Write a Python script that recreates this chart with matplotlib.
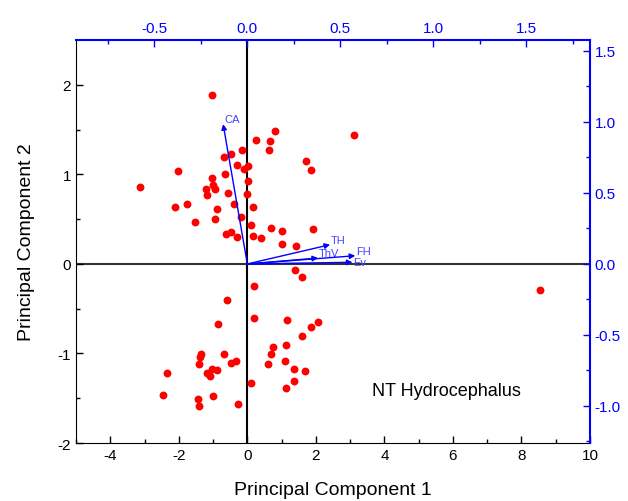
"""PCA biplot - NT Hydrocephalus"""

import numpy as np
from matplotlib import pyplot as plt

plt.rcParams["font.family"] = ["Liberation Sans", "DejaVu Sans"]
plt.rcParams["axes.unicode_minus"] = False

# scores (bottom / left axes)
pc1 = [-1.02, 0.81, 0.26, 0.66, 0.64, -0.17, -0.49, -0.68, -0.30, 0.03,
       -0.09, -2.01, -0.64, 1.70, 1.87, -3.14, -1.03, 0.03, -1.01, -1.20,
       -0.95, -0.56, 0.00, -1.17, -1.75, -0.40, -2.11, 0.17, -0.89, -0.18,
       -1.53, -0.94, 0.10, 0.69, 1.02, 1.92, -0.63, -0.49, -0.29, 0.18,
       0.40, 1.00, 1.41, 3.10, 8.55, 1.40, 1.61, 0.20, -0.60, -0.86,
       0.20, 1.17, 2.06, 1.86, 1.59, 1.13, 0.74, 0.69, 0.60, 1.11,
       1.35, 1.69, 1.37, 1.12, 0.10, -0.69, -1.35, -1.37, -1.41, -0.49,
       -0.32, -1.03, -0.89, -1.19, -1.08, -2.34, -2.46, -1.44, -1.42, -1.01,
       -0.26]
pc2 = [1.89, 1.48, 1.39, 1.37, 1.27, 1.27, 1.23, 1.19, 1.10, 1.09,
       1.06, 1.04, 1.01, 1.15, 1.05, 0.86, 0.96, 0.93, 0.88, 0.84,
       0.84, 0.79, 0.78, 0.77, 0.67, 0.67, 0.64, 0.64, 0.61, 0.53,
       0.47, 0.50, 0.44, 0.40, 0.37, 0.39, 0.33, 0.36, 0.30, 0.31,
       0.29, 0.22, 0.20, 1.445, -0.29, -0.07, -0.14, -0.25, -0.40, -0.67,
       -0.60, -0.63, -0.65, -0.70, -0.80, -0.91, -0.93, -1.01, -1.12, -1.08,
       -1.17, -1.20, -1.31, -1.39, -1.33, -1.01, -1.01, -1.04, -1.12, -1.11,
       -1.08, -1.17, -1.18, -1.22, -1.25, -1.22, -1.46, -1.51, -1.59, -1.47,
       -1.56]

# loadings (top / right axes)
var_names = ["CA", "TH", "ThV", "FH", "Ev"]
load1 = [-0.13, 0.445, 0.38, 0.58, 0.565]
load2 = [0.985, 0.136, 0.042, 0.058, 0.012]

blue = "#0000ff"

fig = plt.figure(figsize=(6.28, 5.02), dpi=100)
pos = [0.121, 0.1155, 0.8185, 0.8025]
ax = fig.add_axes(pos)
ax.set_xlim(-5, 10)
ax.set_ylim(-2, 2.5)
ax.axhline(0, color="#333333", lw=1.5, zorder=1)
ax.axvline(0, color="black", lw=1.5, zorder=1)
ax.scatter(pc1, pc2, s=32, color="red", zorder=3, linewidths=0)
ax.set_xticks([-4, -2, 0, 2, 4, 6, 8, 10])
ax.set_xticks(np.arange(-5, 10, 1), minor=True)
ax.set_yticks([-2, -1, 0, 1, 2])
ax.set_yticks([-1.5, -0.5, 0.5, 1.5], minor=True)
ax.tick_params(direction="in", length=5, width=1, labelsize=11, which="major")
ax.tick_params(direction="in", length=3, width=1, which="minor")
ax.set_xlabel("Principal Component 1", fontsize=14, labelpad=14)
ax.set_ylabel("Principal Component 2", fontsize=14, labelpad=16)
ax.spines["top"].set_visible(False)
ax.spines["right"].set_visible(False)
ax.text(0.72, 0.13, "NT Hydrocephalus", transform=ax.transAxes,
        fontsize=13, ha="center", va="center")

ax2 = fig.add_axes(pos, facecolor="none")
ax2.set_xlim(-5 / 5.43, 10 / 5.43)
ax2.set_ylim(-2 / 1.586, 2.5 / 1.586)
ax2.xaxis.tick_top()
ax2.yaxis.tick_right()
ax2.set_xticks([-0.5, 0.0, 0.5, 1.0, 1.5])
ax2.set_xticks(np.arange(-0.75, 1.8, 0.25), minor=True)
ax2.set_yticks([-1.0, -0.5, 0.0, 0.5, 1.0, 1.5])
ax2.set_yticks(np.arange(-1.25, 1.6, 0.25), minor=True)
ax2.xaxis.set_major_formatter(plt.FormatStrFormatter("%.1f"))
ax2.yaxis.set_major_formatter(plt.FormatStrFormatter("%.1f"))
ax2.tick_params(direction="in", length=5, width=1, labelsize=11, which="major",
                colors=blue)
ax2.tick_params(direction="in", length=3, width=1, which="minor", colors=blue)
for side in ["top", "right"]:
    ax2.spines[side].set_color(blue)
    ax2.spines[side].set_linewidth(1.5)
ax2.spines["left"].set_visible(False)
ax2.spines["bottom"].set_visible(False)

for name, lx, ly in zip(var_names, load1, load2):
    ax2.annotate("", xy=(lx, ly), xytext=(0, 0),
                 arrowprops=dict(arrowstyle="-|>", color=blue, lw=1,
                                 mutation_scale=8, shrinkA=0, shrinkB=0))
    ax2.text(lx + 0.005, ly, name, color="#4444ff", fontsize=8,
             ha="left", va="bottom" if name != "Ev" else "center")

fig.savefig("out.png", dpi=100)
